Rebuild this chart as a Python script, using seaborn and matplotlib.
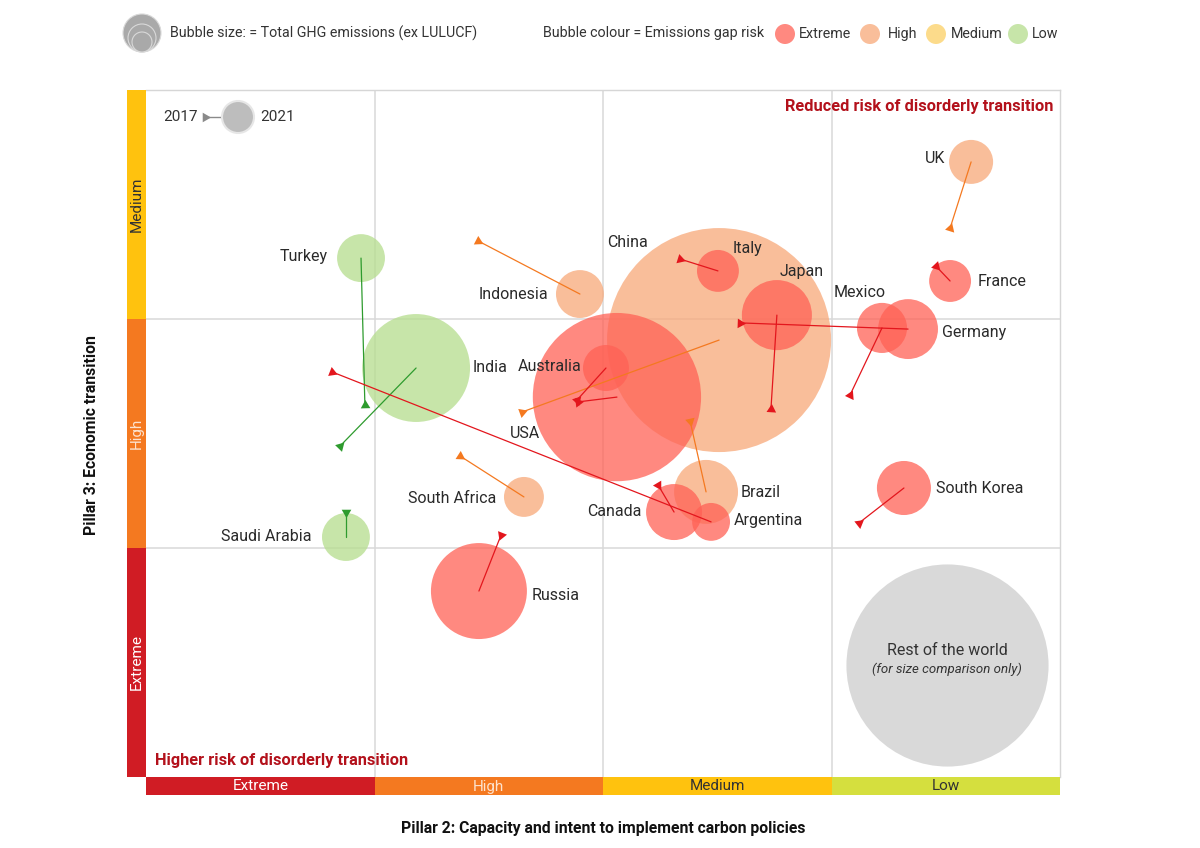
import numpy as np
import pandas as pd
import matplotlib
matplotlib.use("Agg")
import matplotlib.pyplot as plt
from matplotlib.patches import Circle, Rectangle
import seaborn as sns

# ---------------- data ----------------
countries = ["China", "USA", "India", "Russia", "Japan", "Brazil", "Germany",
             "Canada", "South Korea", "Mexico", "Indonesia", "Turkey",
             "Saudi Arabia", "Australia", "UK", "Italy", "France",
             "South Africa", "Argentina"]
risk = ["High", "Extreme", "Low", "Extreme", "Extreme", "High", "Extreme",
        "Extreme", "Extreme", "Extreme", "High", "Low",
        "Low", "Extreme", "High", "Extreme", "Extreme",
        "High", "Extreme"]
# Pillar 2 score (0-4 scale: Extreme..Low), Pillar 3 score (0-3 scale: Extreme..Medium)
pillar2_2021 = [2.508, 2.061, 1.182, 1.457, 2.761, 2.451, 3.335,
                2.311, 3.317, 3.221, 1.899, 0.941,
                0.875, 2.013, 3.611, 2.503, 3.519,
                1.654, 2.473]
pillar3_2021 = [1.908, 1.659, 1.786, 0.812, 2.017, 1.245, 1.956,
                1.157, 1.262, 1.961, 2.109, 2.266,
                1.048, 1.786, 2.686, 2.210, 2.166,
                1.223, 1.114]
pillar2_2017 = [1.646, 1.891, 0.849, 1.554, 2.735, 2.381, 2.600,
                2.241, 3.120, 3.081, 1.453, 0.958,
                0.875, 1.886, 3.519, 2.337, 3.457,
                1.374, 0.814]
pillar3_2017 = [1.594, 1.638, 1.445, 1.057, 1.607, 1.555, 1.983,
                1.275, 1.109, 1.668, 2.341, 1.624,
                1.157, 1.646, 2.397, 2.262, 2.231,
                1.402, 1.769]
# total GHG emissions ex LULUCF (MtCO2e, approx.)
emissions = [14000, 7900, 3250, 2570, 1370, 1140, 1000,
             875, 815, 700, 640, 640,
             640, 590, 540, 490, 490,
             445, 400]
rest_of_world = {"x": 3.505, "y": 0.489, "emissions": 11400}

pillar2_levels = ["Extreme", "High", "Medium", "Low"]
pillar3_levels = ["Extreme", "High", "Medium"]

# label offsets in pixels (dx, dy, ha)
label_pos = {
    "Turkey": (-33, 2, "right"), "India": (57, 1, "left"), "Indonesia": (-32, 0, "right"),
    "China": (-112, 98, "left"), "Italy": (15, 22, "left"), "Japan": (3, 44, "left"),
    "Mexico": (-48, 35, "left"), "Germany": (34, -3, "left"), "France": (28, -1, "left"),
    "UK": (-26, 3, "right"), "USA": (-107, -36, "left"), "Australia": (-24, 2, "right"),
    "South Africa": (-28, -2, "right"), "Brazil": (35, -1, "left"),
    "Canada": (-33, 1, "right"), "Argentina": (23, 1, "left"),
    "South Korea": (32, 0, "left"), "Saudi Arabia": (-34, 1, "right"),
    "Russia": (53, -4, "left"),
}

bubble_palette = {"Extreme": "#ff6155", "High": "#f8a879", "Medium": "#fcd065", "Low": "#b5dd8d"}
line_palette = {"Extreme": "#e3161d", "High": "#f47920", "Medium": "#f5b400", "Low": "#2e9b2e"}
band2_colors = ["#d01c24", "#f47920", "#ffc20e", "#d5df3e"]
band3_colors = ["#d01c24", "#f47920", "#ffc20e"]
band_text = {"Extreme": "white", "High": "#fde3cf", "Medium": "#333333", "Low": "#333333"}

# ---------------- style ----------------
sns.set_style("white")
plt.rcParams["font.family"] = ["Roboto", "DejaVu Sans"]

W, H = 1200, 848
fig = plt.figure(figsize=(12, 8.48), dpi=100)
L, R, T, B = 146, 1060, 90, 777
ax = fig.add_axes([L / W, (H - B) / H, (R - L) / W, (B - T) / H])
ax.set_xlim(0, 4)
ax.set_ylim(0, 3)
ax.set_xticks([])
ax.set_yticks([])
for s in ["left", "bottom"]:
    ax.spines[s].set_visible(False)
for s in ["top", "right"]:
    ax.spines[s].set_color("#d6d6d6")
    ax.spines[s].set_linewidth(1)
for xv in [1, 2, 3]:
    ax.axvline(xv, color="#d9d9d9", lw=1.1, zorder=0)
for yv in [1, 2]:
    ax.axhline(yv, color="#d9d9d9", lw=1.1, zorder=0)

df = pd.DataFrame({"country": countries, "risk": risk,
                   "x21": pillar2_2021, "y21": pillar3_2021,
                   "x17": pillar2_2017, "y17": pillar3_2017,
                   "emissions": emissions})
df = df.sort_values("emissions", ascending=False).reset_index(drop=True)

# bubble area scale: pt^2 per Mt
px_pt = 72 / 100
area_per_mt = (2 * px_pt) ** 2 * (112 ** 2) / 14000
emax = max(emissions)

sns.scatterplot(x=[rest_of_world["x"]], y=[rest_of_world["y"]],
                s=rest_of_world["emissions"] * area_per_mt, color="#d9d9d9",
                linewidth=0, ax=ax, legend=False, zorder=1)

sns.scatterplot(data=df, x="x21", y="y21", hue="risk", palette=bubble_palette,
                size="emissions", sizes=(0, emax * area_per_mt), size_norm=(0, emax),
                alpha=0.75, linewidth=0, legend=False, ax=ax, zorder=2)
ax.set_xlabel("")
ax.set_ylabel("")

# arrows 2017 -> 2021
fig.canvas.draw()
for _, r in df.iterrows():
    c = line_palette[r["risk"]]
    ax.plot([r["x17"], r["x21"]], [r["y17"], r["y21"]], color=c, lw=0.9, zorder=3)
    p0 = ax.transData.transform((r["x17"], r["y17"]))
    p1 = ax.transData.transform((r["x21"], r["y21"]))
    ang = np.degrees(np.arctan2(p1[1] - p0[1], p1[0] - p0[0]))
    ax.plot([r["x17"]], [r["y17"]], marker=(3, 0, ang - 90), markersize=8,
            color=c, markeredgewidth=0, zorder=4)

# labels
for _, r in df.iterrows():
    dx, dy, ha = label_pos[r["country"]]
    ax.annotate(r["country"], (r["x21"], r["y21"]), xytext=(dx, dy),
                textcoords="offset pixels", ha=ha, va="center",
                fontsize=11.5, color="#2a2a2a", zorder=6)

ax.annotate("Rest of the world", (rest_of_world["x"], rest_of_world["y"]),
            xytext=(0, 15), textcoords="offset pixels", ha="center", va="center",
            fontsize=11.5, color="#333333", zorder=6)
ax.annotate("(for size comparison only)", (rest_of_world["x"], rest_of_world["y"]),
            xytext=(0, -4), textcoords="offset pixels", ha="center", va="center",
            fontsize=9.5, style="italic", color="#333333", zorder=6)

# ---------------- overlay (pixel coords) ----------------
oax = fig.add_axes([0, 0, 1, 1], zorder=10)
oax.set_xlim(0, W)
oax.set_ylim(H, 0)
oax.axis("off")
oax.patch.set_alpha(0)

# category bands
bw = (R - L) / 4
for i, lvl in enumerate(pillar2_levels):
    oax.add_patch(Rectangle((L + i * bw, B), bw, 18, color=band2_colors[i], lw=0))
    oax.text(L + (i + 0.5) * bw, B + 9.5, lvl, ha="center", va="center",
             fontsize=11, color=band_text[lvl])
bh = (B - T) / 3
for i, lvl in enumerate(pillar3_levels):
    y0 = B - (i + 1) * bh
    oax.add_patch(Rectangle((127, y0), 19, bh, color=band3_colors[i], lw=0))
    oax.text(136.5, y0 + bh / 2, lvl, ha="center", va="center", rotation=90,
             fontsize=11, color=band_text[lvl])

# axis titles
oax.text((L + R) / 2, 829, "Pillar 2: Capacity and intent to implement carbon policies",
         ha="center", va="center", fontsize=11.3, fontweight="bold", color="#111111")
oax.text(92, 435, "Pillar 3: Economic transition", ha="center", va="center",
         rotation=90, fontsize=11.3, fontweight="bold", color="#111111")

# corner annotations
oax.text(1053, 107, "Reduced risk of disorderly transition", ha="right", va="center",
         fontsize=11.8, fontweight="bold", color="#b3111b")
oax.text(155, 760, "Higher risk of disorderly transition", ha="left", va="center",
         fontsize=11.8, fontweight="bold", color="#b3111b")

# top legend: size
for rr, cy in [(19, 33), (14, 38), (10, 42)]:
    oax.add_patch(Circle((142, cy), rr, facecolor="#a9a9a9", edgecolor="#d9d9d9", lw=0.8))
oax.text(170, 33, "Bubble size: = Total GHG emissions (ex LULUCF)", ha="left",
         va="center", fontsize=10.3, color="#333333")

# top legend: colour
oax.text(543, 33, "Bubble colour = Emissions gap risk", ha="left", va="center",
         fontsize=10.3, color="#333333")
for lvl, dxp, txp in [("Extreme", 785, 799), ("High", 870, 888),
                      ("Medium", 936, 951), ("Low", 1018, 1032)]:
    oax.add_patch(Circle((dxp, 34), 10, facecolor=bubble_palette[lvl], alpha=0.75, lw=0))
    oax.text(txp, 34, lvl, ha="left", va="center", fontsize=10.3, color="#333333")

# in-plot legend 2017 -> 2021
oax.text(198, 117, "2017", ha="right", va="center", fontsize=11, color="#333333")
oax.plot([205, 238], [117, 117], color="#8a8a8a", lw=1)
oax.plot([205], [117], marker=(3, 0, -90), markersize=8, color="#8a8a8a", markeredgewidth=0)
oax.add_patch(Circle((238, 117), 16, facecolor="#bdbdbd", edgecolor="#e6e6e6", lw=1.5, zorder=3))
oax.text(260, 117, "2021", ha="left", va="center", fontsize=11, color="#333333")

fig.savefig("out.png", dpi=100, facecolor="white")
